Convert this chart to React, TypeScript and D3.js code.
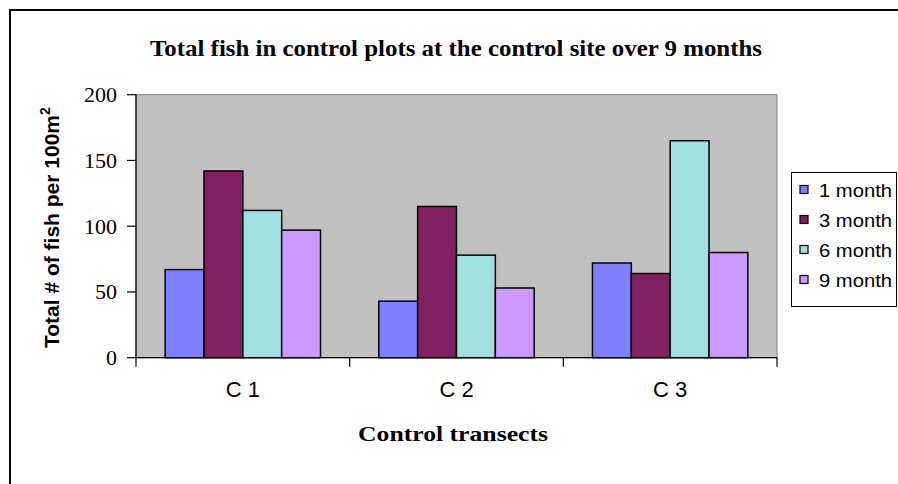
import * as d3 from 'd3'

const transects = ['C 1', 'C 2', 'C 3']
const seriesNames = ['1 month', '3 month', '6 month', '9 month']
const month1 = [67, 43, 72]
const month3 = [142, 115, 64]
const month6 = [112, 78, 165]
const month9 = [97, 53, 80]
const yTicks = [0, 50, 100, 150, 200]

const colors = ['#8080ff', '#802060', '#a0e0e0', '#cc99ff']

const W = 898
const H = 484
const plot = { left: 136, right: 777, top: 94.7, bottom: 357.7 }

export default function App() {
  const series = [month1, month3, month6, month9]

  const x0 = d3
    .scaleBand<string>()
    .domain(transects)
    .range([plot.left, plot.right])
    .paddingInner(0)
    .paddingOuter(0)

  // gap width ~150% of a bar, split on both sides
  const x1 = d3
    .scaleBand<string>()
    .domain(seriesNames)
    .range([0, x0.bandwidth()])
    .paddingInner(0)
    .paddingOuter(0.75)

  const y = d3.scaleLinear().domain([0, 200]).range([plot.bottom, plot.top])

  const boundaries = transects.map((t) => x0(t) as number).concat([plot.right])

  return (
    <svg
      width={W}
      height={H}
      style={{ position: 'fixed', left: 0, top: 0, background: '#fff' }}
    >
      {/* outer chart frame */}
      <rect x={10} y={10} width={W + 20} height={H + 20} fill="#fff" stroke="#000" strokeWidth={2} />

      <text
        x={456}
        y={56}
        textAnchor="middle"
        fontFamily="'Liberation Serif', 'Times New Roman', serif"
        fontWeight="bold"
        fontSize={22.5}
        textLength={612}
        lengthAdjust="spacingAndGlyphs"
      >
        Total fish in control plots at the control site over 9 months
      </text>

      {/* plot area */}
      <rect
        x={plot.left}
        y={plot.top}
        width={plot.right - plot.left}
        height={plot.bottom - plot.top}
        fill="#c0c0c0"
        stroke="#808080"
        strokeWidth={1}
      />

      {transects.map((t, i) => (
        <g key={t}>
          {series.map((vals, s) => {
            const bx = (x0(t) as number) + (x1(seriesNames[s]) as number)
            return (
              <rect
                key={s}
                x={bx}
                y={y(vals[i])}
                width={x1.bandwidth()}
                height={y(0) - y(vals[i])}
                fill={colors[s]}
                stroke="#000"
                strokeWidth={1.5}
              />
            )
          })}
        </g>
      ))}

      {/* axes */}
      <line x1={plot.left} x2={plot.left} y1={plot.top} y2={plot.bottom} stroke="#000" strokeWidth={1.2} />
      <line x1={plot.left} x2={plot.right} y1={plot.bottom} y2={plot.bottom} stroke="#000" strokeWidth={1.2} />

      {yTicks.map((t) => (
        <g key={t}>
          <line x1={plot.left - 9} x2={plot.left} y1={y(t)} y2={y(t)} stroke="#000" strokeWidth={1.2} />
          <text
            x={117}
            y={y(t) + 7.5}
            textAnchor="end"
            fontFamily="'Liberation Serif', 'Times New Roman', serif"
            fontSize={22}
          >
            {t}
          </text>
        </g>
      ))}

      {boundaries.map((b, i) => (
        <line key={i} x1={b} x2={b} y1={plot.bottom} y2={plot.bottom + 9} stroke="#000" strokeWidth={1.2} />
      ))}

      {transects.map((t) => (
        <text
          key={t}
          x={(x0(t) as number) + x0.bandwidth() / 2}
          y={397}
          textAnchor="middle"
          fontFamily="'Liberation Sans', Arial, sans-serif"
          fontSize={22}
        >
          {t}
        </text>
      ))}

      <text
        x={453}
        y={441}
        textAnchor="middle"
        fontFamily="'Liberation Serif', 'Times New Roman', serif"
        fontWeight="bold"
        fontSize={22}
        textLength={190}
        lengthAdjust="spacingAndGlyphs"
      >
        Control transects
      </text>

      <text
        transform="translate(59,348) rotate(-90)"
        fontFamily="'Liberation Sans', Arial, sans-serif"
        fontWeight="bold"
        fontSize={21}
      >
        Total # of fish per 100m
        <tspan fontSize={14} dy={-9}>
          2
        </tspan>
      </text>

      {/* legend */}
      <rect x={791.5} y={172.5} width={105} height={134} fill="#fff" stroke="#000" strokeWidth={1} />
      {seriesNames.map((name, i) => {
        const cy = 190 + i * 30
        return (
          <g key={name}>
            <rect x={800} y={cy - 4.5} width={8} height={8} fill={colors[i]} stroke="#000" strokeWidth={1.2} />
            <text
              x={819}
              y={cy + 6.5}
              fontFamily="'Liberation Sans', Arial, sans-serif"
              fontSize={18}
              textLength={73}
              lengthAdjust="spacingAndGlyphs"
            >
              {name}
            </text>
          </g>
        )
      })}
    </svg>
  )
}
